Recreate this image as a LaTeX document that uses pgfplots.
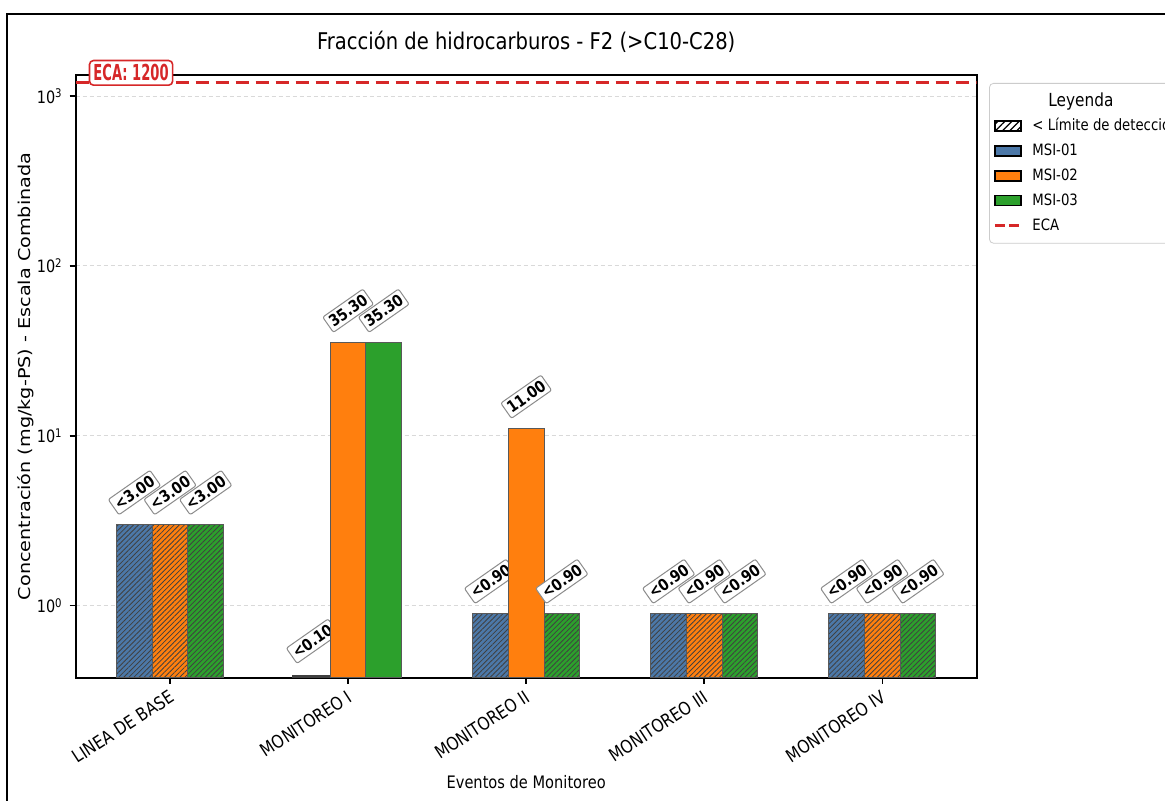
\documentclass[border=0pt]{standalone}
\usepackage{graphicx}
\usepackage{fontspec}
\setmainfont{DejaVu Sans}[FakeStretch=0.85]
\newfontfamily\plainfont{DejaVu Sans}
\usepackage{pgfplots}
\pgfplotsset{compat=1.18}
\usetikzlibrary{patterns.meta}
\definecolor{msiblue}{HTML}{4C78A8}
\definecolor{msiorange}{HTML}{FF7F0E}
\definecolor{msigreen}{HTML}{2CA02C}
\definecolor{ecared}{HTML}{D62728}
\tikzset{
  hatchbar/.style={draw=black!65, line width=0.5pt, postaction={pattern color=black!75, pattern={Lines[angle=45,distance=1.8pt,line width=0.4pt]}}},
  solidbar/.style={draw=black!65, line width=0.5pt},
}
\begin{document}
\begin{tikzpicture}
\path[use as bounding box] (-37.85pt,-61.65pt) rectangle (544.65pt,338.85pt);
\clip (-37.85pt,-61.65pt) rectangle (544.65pt,338.85pt);
\fill[white] (-37.85pt,-61.65pt) rectangle (544.65pt,338.85pt);
\draw[line width=1pt] (-34.35pt,331.85pt) rectangle (620pt,-120pt);
\begin{axis}[
  at={(0,0)}, anchor=south west,
  scale only axis, width=450.5pt, height=301.35pt,
  xmin=-0.53, xmax=4.53,
  ymode=log, ymin=0.3763, ymax=1330, log origin y=infty,
  xtick={0,1,2,3,4},
  xticklabels={LINEA DE BASE, MONITOREO I, MONITOREO II, MONITOREO III, MONITOREO IV},
  xticklabel style={yshift=2pt, rotate=33, anchor=north east, font=\fontsize{9}{10}\selectfont},
  ytick={1,10,100,1000},
  yticklabels={10\textsuperscript{0},10\textsuperscript{1},10\textsuperscript{2},10\textsuperscript{3}},
  yticklabel style={font=\fontsize{8.5}{9}\selectfont},
  yminorticks=false,
  tick pos=left, tick align=outside, major tick length=3pt,
  tick style={line width=0.8pt, black},
  axis line style={line width=1pt},
  ymajorgrids, major grid style={gray!30, line width=0.4pt, dash pattern=on 2pt off 1.5pt},
  bar width=0.2,
  clip mode=individual,
  title={Fracción de hidrocarburos - F2 (>C10-C28)},
  every axis title/.style={at={(axis description cs:0.5,1.0548)}, anchor=center, font=\fontsize{11.5}{13}\selectfont},
  xlabel={Eventos de Monitoreo},
  xlabel style={at={(axis description cs:0.5,-0.174)}, anchor=center, font=\fontsize{8.6}{9}\selectfont},
  ylabel={\scalebox{1}[0.85]{\plainfont\fontsize{9.6}{10}\selectfont Concentración (mg/kg-PS) - Escala Combinada}},
  ylabel style={at={(axis description cs:-0.0555,0.5)}, anchor=center},
  nodes near coords align={center},
  every node near coord/.append style={font=\bfseries\fontsize{8}{9}\selectfont, yshift=16pt, rotate=35, anchor=center, draw=black!45, fill=white, rounded corners=1pt, inner sep=1.5pt, line width=0.5pt, text height=6pt, text depth=0.3pt, text=black},
  legend style={at={(axis description cs:1.0137,0.9867)}, anchor=north west, draw=black!20, rounded corners=2pt, fill=white,
    font=\fontsize{7.8}{8.5}\selectfont, inner xsep=2pt, inner ysep=4pt, row sep=2.5pt,
    nodes={inner sep=1pt, text height=6.3pt, text depth=1.6pt},
    /tikz/every odd column/.append style={column sep=4pt}},
  legend cell align=left,
]
\addlegendimage{empty legend}
\addlegendentry{\hspace{8pt}\fontsize{9}{10}\selectfont Leyenda}
\addlegendimage{legend image code/.code={\draw[sharp corners, fill=white, draw=black, line width=0.8pt, postaction={pattern color=black, pattern={Lines[angle=45,distance=2.5pt,line width=0.6pt]}}] (0pt,-2.5pt) rectangle (13pt,2.5pt);}}
\addlegendentry{< Límite de detección}
\addlegendimage{legend image code/.code={\draw[sharp corners, fill=msiblue, draw=black, line width=0.8pt] (0pt,-2.5pt) rectangle (13pt,2.5pt);}}
\addlegendentry{MSI-01}
\addlegendimage{legend image code/.code={\draw[sharp corners, fill=msiorange, draw=black, line width=0.8pt] (0pt,-2.5pt) rectangle (13pt,2.5pt);}}
\addlegendentry{MSI-02}
\addlegendimage{legend image code/.code={\draw[sharp corners, fill=msigreen, draw=black, line width=0.8pt] (0pt,-2.5pt) rectangle (13pt,2.5pt);}}
\addlegendentry{MSI-03}
\addlegendimage{legend image code/.code={\draw[ecared, line width=1.5pt, dash pattern=on 5pt off 2pt] (0pt,0pt) -- (13pt,0pt);}}
\addlegendentry{ECA}

% MSI-01 (all below detection limit), bars at category - 0.2
\addplot[forget plot, ybar, bar shift=0, fill=msiblue, hatchbar, nodes near coords, point meta=explicit symbolic]
  coordinates {(-0.2,3) [<3.00] (1.8,0.9) [<0.90] (2.8,0.9) [<0.90] (3.8,0.9) [<0.90]};
\addplot[forget plot, ybar, bar shift=0, fill=black!70, draw=black!75, line width=3pt]
  coordinates {(0.8,0.1)};
\addplot[forget plot, draw=none, mark=none, nodes near coords, point meta=explicit symbolic]
  coordinates {(0.8,0.40) [<0.10]};
% MSI-02, bars at category
\addplot[forget plot, ybar, bar shift=0, fill=msiorange, hatchbar, nodes near coords, point meta=explicit symbolic]
  coordinates {(0,3) [<3.00] (3,0.9) [<0.90] (4,0.9) [<0.90]};
\addplot[forget plot, ybar, bar shift=0, fill=msiorange, solidbar, nodes near coords, point meta=explicit symbolic]
  coordinates {(1,35.3) [35.30] (2,11) [11.00]};
% MSI-03, bars at category + 0.2
\addplot[forget plot, ybar, bar shift=0, fill=msigreen, hatchbar, nodes near coords, point meta=explicit symbolic]
  coordinates {(0.2,3) [<3.00] (2.2,0.9) [<0.90] (3.2,0.9) [<0.90] (4.2,0.9) [<0.90]};
\addplot[forget plot, ybar, bar shift=0, fill=msigreen, solidbar, nodes near coords, point meta=explicit symbolic]
  coordinates {(1.2,35.3) [35.30]};
% ECA
\addplot[forget plot, ecared, line width=1.6pt, dash pattern=on 6.5pt off 3.5pt] coordinates {(-0.53,1200) (4.53,1200)};
\node[anchor=south west, yshift=-1.7pt, draw=ecared, fill=white, rounded corners=2pt, line width=0.8pt, inner sep=2pt, text=ecared, font=\bfseries\fontsize{11}{12}\selectfont] at (axis cs:-0.457,1200) {\scalebox{0.7}[1]{ECA: 1200}};
\end{axis}
\end{tikzpicture}
\end{document}
